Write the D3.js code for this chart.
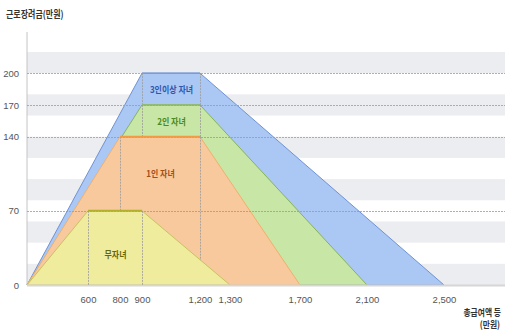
<!DOCTYPE html>
<html>
<head>
<meta charset="utf-8">
<script src="https://cdn.jsdelivr.net/npm/d3@7"></script>
<style>
  html, body { margin: 0; padding: 0; background: #fff; }
  svg { display: block; }
  .num { font-family: "Liberation Sans Narrow", "Arial Narrow", "Liberation Sans", sans-serif; font-size: 9.5px; fill: #555; }
  .kr { font-family: "Noto Sans CJK KR", "Noto Sans", sans-serif; }
</style>
</head>
<body>
<svg id="chart" width="505" height="336"></svg>
<script>
// 근로장려금 지급 구간 (가구 유형별)
const groups       = ["3인이상 자녀", "2인 자녀", "1인 자녀", "무자녀"];
const maxBenefit   = [200, 170, 140, 70];     // 최대 지급액 (만원)
const phaseInEnd   = [900, 900, 800, 600];    // 점증 구간 끝
const plateauEnd   = [1200, 1200, 1200, 900]; // 평탄 구간 끝
const phaseOutEnd  = [2500, 2100, 1700, 1300];// 점감 구간 끝 (지급액 0)
const yTicks = [0, 70, 140, 170, 200];
const xTicks = [600, 800, 900, 1200, 1300, 1700, 2100, 2500];

// styling per group
const fillColors   = ["#abc8f4", "#c8e6a6", "#f8c99c", "#f0ec9e"];
const edgeColors   = ["#6f93d2", "#86b45e", "#f0b06e", "#c9c262"];
const topColors    = ["#7a9ad6", "#8fba64", "#f39a45", "#b3b02c"];
const labelColors  = ["#2f56ad", "#4b8a1d", "#a24f1a", "#66660f"];
const labelValue   = [185, 154, 105, 29];

const W = 505, H = 336;
const svg = d3.select("#chart");

// piecewise axis: the horizontal spacing is stretched unevenly between breakpoints
const x = d3.scaleLinear()
  .domain([0, 600, 800, 900, 1200, 1300, 1700, 2100, 2500])
  .range([27, 88, 120, 142, 200, 230, 300, 367, 444]);
const y = d3.scaleLinear().domain([0, 220]).range([285, 52]);

// alternating background bands (20만원 each)
const bands = d3.range(0, 220, 40);
svg.append("g").selectAll("rect").data(bands).join("rect")
  .attr("x", x(0)).attr("width", W - x(0))
  .attr("y", d => y(d + 20)).attr("height", d => y(d) - y(d + 20))
  .attr("fill", "#ecedf1");

// y axis line and baseline
svg.append("line").attr("x1", x(0)).attr("x2", x(0)).attr("y1", 32).attr("y2", y(0))
  .attr("stroke", "#c4c4c4").attr("stroke-width", 1);

// polygon outline points for each group in pixel space
const shapes = groups.map((g, i) => [
  [x(0), y(0)],
  [x(phaseInEnd[i]), y(maxBenefit[i])],
  [x(plateauEnd[i]), y(maxBenefit[i])],
  [x(phaseOutEnd[i]), y(0)]
]);

// top of a group's outline at pixel position px
function topAt(i, px) {
  const p = shapes[i];
  for (let k = 0; k < p.length - 1; k++) {
    if (px >= p[k][0] && px <= p[k + 1][0]) {
      const t = (px - p[k][0]) / (p[k + 1][0] - p[k][0] || 1);
      return p[k][1] + t * (p[k + 1][1] - p[k][1]);
    }
  }
  return y(0);
}

const line = d3.line();
const areas = svg.append("g");
groups.forEach((g, i) => {
  areas.append("path")
    .attr("d", line(shapes[i]) + "Z")
    .attr("fill", fillColors[i])
    .attr("stroke", edgeColors[i])
    .attr("stroke-width", 1)
    .attr("stroke-linejoin", "round");
});

svg.append("line").attr("x1", x(0)).attr("x2", W).attr("y1", y(0) + 0.5).attr("y2", y(0) + 0.5)
  .attr("stroke", "#d6d6d6").attr("stroke-width", 2);

// horizontal dotted guides at each level
svg.append("g").selectAll("line").data(yTicks.filter(d => d > 0)).join("line")
  .attr("x1", x(0)).attr("x2", W)
  .attr("y1", d => Math.round(y(d)) + 0.5).attr("y2", d => Math.round(y(d)) + 0.5)
  .attr("stroke", "#9a9a9a").attr("stroke-width", 0.8).attr("stroke-dasharray", "2,1");

// vertical dotted guides at the plateau corners, down to the next group's outline
const vguides = [];
groups.forEach((g, i) => {
  [phaseInEnd[i], plateauEnd[i]].forEach(v => {
    const px = Math.round(x(v)) + 0.5;
    const bottom = i < groups.length - 1 ? topAt(i + 1, px) : y(0);
    vguides.push({ px, top: y(maxBenefit[i]), bottom });
  });
});
svg.append("g").selectAll("line").data(vguides).join("line")
  .attr("x1", d => d.px).attr("x2", d => d.px)
  .attr("y1", d => d.top).attr("y2", d => d.bottom)
  .attr("stroke", "#9a9a9a").attr("stroke-width", 0.8).attr("stroke-dasharray", "2,1");

// plateau edges
svg.append("g").selectAll("line").data(groups).join("line")
  .attr("x1", (d, i) => x(phaseInEnd[i])).attr("x2", (d, i) => x(plateauEnd[i]))
  .attr("y1", (d, i) => y(maxBenefit[i])).attr("y2", (d, i) => y(maxBenefit[i]))
  .attr("stroke", (d, i) => topColors[i])
  .attr("stroke-width", (d, i) => i >= 2 ? 2 : 1.3);

// group labels
groups.forEach((g, i) => {
  const cx = (x(phaseInEnd[i]) + x(plateauEnd[i])) / 2 + 0.5;
  svg.append("text")
    .attr("class", "kr")
    .attr("transform", `translate(${cx},${y(labelValue[i])}) scale(0.84,1)`)
    .attr("text-anchor", "middle").attr("dy", "0.36em")
    .attr("font-size", 9.5).attr("font-weight", 700)
    .attr("fill", labelColors[i])
    .text(g);
});

// y axis tick labels
const yAxis = d3.axisLeft(y).tickValues(yTicks).tickSize(0).tickPadding(8);
const gy = svg.append("g").attr("transform", `translate(${x(0)},0)`).call(yAxis);
gy.select(".domain").remove();
gy.selectAll("text").attr("class", "num").attr("font-family", null).attr("font-size", null).attr("fill", null);

// x axis tick labels
const fmt = d3.format(",");
const xAxis = d3.axisBottom(x).tickValues(xTicks).tickFormat(fmt).tickSize(0).tickPadding(11);
const gx = svg.append("g").attr("transform", `translate(0,${y(0)})`).call(xAxis);
gx.select(".domain").remove();
gx.selectAll("text").attr("class", "num").attr("font-family", null).attr("font-size", null).attr("fill", null);

// axis titles
svg.append("text").attr("class", "kr")
  .attr("transform", "translate(6,18) scale(0.8,1)")
  .attr("font-size", 10).attr("font-weight", 700).attr("fill", "#333")
  .text("근로장려금(만원)");
svg.append("text").attr("class", "kr")
  .attr("transform", "translate(501,316) scale(0.82,1)")
  .attr("text-anchor", "end")
  .attr("font-size", 9.5).attr("font-weight", 700).attr("fill", "#333")
  .text("총급여액 등");
svg.append("text").attr("class", "kr")
  .attr("transform", "translate(500,328) scale(0.82,1)")
  .attr("text-anchor", "end")
  .attr("font-size", 9.5).attr("font-weight", 700).attr("fill", "#333")
  .text("(만원)");
</script>
</body>
</html>
